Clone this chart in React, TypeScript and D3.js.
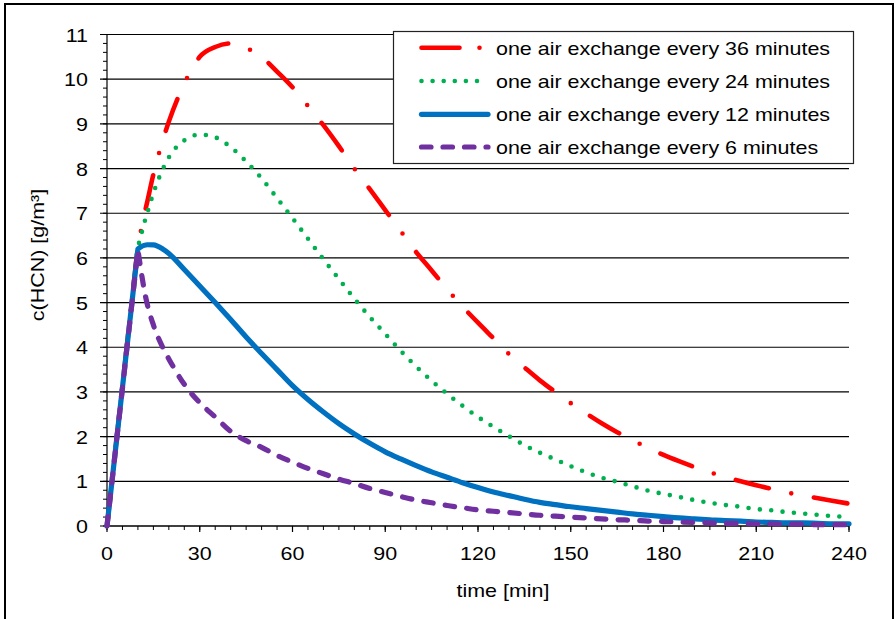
import React from 'react';
import * as d3 from 'd3';

const times = [0, 10, 11, 12, 13, 15, 18, 20, 25, 30, 35, 40, 45, 50, 55, 60, 65, 70, 75, 80, 85, 90, 95, 100, 105, 110, 115, 120, 125, 130, 135, 140, 145, 150, 155, 160, 165, 170, 175, 180, 185, 190, 195, 200, 205, 210, 215, 220, 225, 230, 235, 240];

const every36 = [0, 6.28, 6.62, 6.95, 7.25, 7.87, 8.62, 9.05, 9.9, 10.5, 10.72, 10.8, 10.7, 10.5, 10.17, 9.82, 9.4, 8.97, 8.5, 8.0, 7.54, 7.07, 6.6, 6.13, 5.72, 5.3, 4.91, 4.55, 4.2, 3.85, 3.55, 3.26, 3.0, 2.75, 2.52, 2.3, 2.1, 1.92, 1.75, 1.59, 1.45, 1.32, 1.2, 1.1, 1.0, 0.91, 0.83, 0.75, 0.68, 0.62, 0.56, 0.5];
const every24 = [0, 6.25, 6.5, 6.77, 7.0, 7.45, 7.98, 8.25, 8.63, 8.76, 8.7, 8.48, 8.16, 7.78, 7.34, 6.89, 6.43, 5.97, 5.53, 5.09, 4.68, 4.3, 3.92, 3.57, 3.25, 2.96, 2.69, 2.44, 2.22, 2.01, 1.81, 1.64, 1.49, 1.34, 1.2, 1.08, 0.99, 0.89, 0.79, 0.72, 0.65, 0.58, 0.52, 0.47, 0.43, 0.38, 0.35, 0.31, 0.28, 0.25, 0.22, 0.2];
const every12 = [0, 6.2, 6.25, 6.28, 6.295, 6.29, 6.2, 6.1, 5.74, 5.37, 5.0, 4.62, 4.23, 3.86, 3.5, 3.14, 2.83, 2.55, 2.29, 2.06, 1.85, 1.66, 1.5, 1.35, 1.21, 1.09, 0.97, 0.86, 0.76, 0.68, 0.6, 0.53, 0.48, 0.43, 0.39, 0.35, 0.31, 0.27, 0.24, 0.21, 0.18, 0.16, 0.14, 0.12, 0.11, 0.09, 0.08, 0.07, 0.07, 0.06, 0.05, 0.05];
const every6 = [0, 6.18, 5.72, 5.3, 4.97, 4.5, 4.0, 3.74, 3.17, 2.76, 2.44, 2.12, 1.91, 1.76, 1.58, 1.43, 1.29, 1.17, 1.05, 0.95, 0.84, 0.75, 0.66, 0.58, 0.52, 0.46, 0.41, 0.36, 0.33, 0.3, 0.27, 0.24, 0.22, 0.2, 0.18, 0.16, 0.14, 0.13, 0.11, 0.1, 0.09, 0.08, 0.07, 0.06, 0.06, 0.05, 0.05, 0.04, 0.04, 0.03, 0.03, 0.03];

const seriesLabels = [
  'one air exchange every 36 minutes',
  'one air exchange every 24 minutes',
  'one air exchange every 12 minutes',
  'one air exchange every 6 minutes',
];
const yTickValues = [0, 1, 2, 3, 4, 5, 6, 7, 8, 9, 10, 11];
const xTickValues = [0, 30, 60, 90, 120, 150, 180, 210, 240];
const yTitle = 'c(HCN) [g/m³]';
const xTitle = 'time [min]';

const FONT = 'Liberation Sans, Arial, sans-serif';
const FS = 19;
const SX = 1.13;

export default function App() {
  const x = d3.scaleLinear().domain([0, 240]).range([107, 849]);
  const y = d3.scaleLinear().domain([0, 11]).range([526, 34.5]);

  const makePath = (vals: number[]) => {
    const pts: [number, number][] = times.map((t, i) => [x(t), y(vals[i])]);
    const tail = d3.line().curve(d3.curveMonotoneX)(pts.slice(1)) as string;
    return `M${pts[0][0]},${pts[0][1]}L` + tail.slice(1);
  };

  const styles = [
    { data: every36, color: '#FF0000', width: 4.6, dash: '34 23 0 23', legendDash: '38 20 0 60' },
    { data: every24, color: '#00B050', width: 4.6, dash: '0 11.4', legendDash: '0 11.1' },
    { data: every12, color: '#0070C0', width: 5.2, dash: undefined, legendDash: undefined },
    { data: every6, color: '#7030A0', width: 5.2, dash: '9.5 12.2', legendDash: '9.5 12' },
  ];

  const yMinor = y.ticks(55);
  const xMinor = x.ticks(48);
  const legendRows = [47.7, 81, 114.3, 147];

  return (
    <svg width={896} height={619} style={{ position: 'absolute', left: 0, top: 0, background: '#fff' }}>
      <rect x={5} y={4} width={888} height={640} fill="#fff" stroke="#000" strokeWidth={2} />

      {yTickValues.map((v) => (
        <line key={'g' + v} x1={100} x2={849} y1={y(v)} y2={y(v)} stroke="#000" strokeWidth={1.2} />
      ))}
      {yMinor.map((v, i) => (
        <line key={'ym' + i} x1={103} x2={107} y1={y(v)} y2={y(v)} stroke="#000" strokeWidth={1} />
      ))}
      {xMinor.map((v, i) => (
        <line key={'xm' + i} x1={x(v)} x2={x(v)} y1={526} y2={530} stroke="#000" strokeWidth={1} />
      ))}
      {xTickValues.map((v) => (
        <line key={'xM' + v} x1={x(v)} x2={x(v)} y1={526} y2={532} stroke="#000" strokeWidth={1.2} />
      ))}
      <line x1={107} x2={107} y1={y(11)} y2={526} stroke="#000" strokeWidth={1.2} />
      <line x1={107} x2={849} y1={526} y2={526} stroke="#000" strokeWidth={1.2} />

      {yTickValues.map((v) => (
        <g key={'yl' + v} transform={`translate(88,${y(v) + 7}) scale(${SX},1)`}>
          <text textAnchor="end" fontFamily={FONT} fontSize={FS} fill="#000">{v}</text>
        </g>
      ))}
      {xTickValues.map((v) => (
        <g key={'xl' + v} transform={`translate(${x(v)},560) scale(${SX},1)`}>
          <text textAnchor="middle" fontFamily={FONT} fontSize={FS} fill="#000">{v}</text>
        </g>
      ))}

      <g transform={`translate(503,597) scale(${SX},1)`}>
        <text textAnchor="middle" fontFamily={FONT} fontSize={FS} fill="#000">{xTitle}</text>
      </g>
      <g transform="translate(44,255) rotate(-90)">
        <text textAnchor="middle" fontFamily={FONT} fontSize={FS} fill="#000" transform={`scale(${SX},1)`}>{yTitle}</text>
      </g>

      {styles.map((s, i) => (
        <path
          key={'s' + i}
          d={makePath(s.data)}
          fill="none"
          stroke={s.color}
          strokeWidth={s.width}
          strokeDasharray={s.dash}
          strokeLinecap="round"
          strokeLinejoin="round"
        />
      ))}

      <rect x={393.5} y={31.5} width={460} height={132} fill="#fff" stroke="#222" strokeWidth={1.2} />
      {styles.map((s, i) => (
        <g key={'lg' + i}>
          <line
            x1={421.5}
            x2={i === 0 ? 480 : 488}
            y1={legendRows[i]}
            y2={legendRows[i]}
            stroke={s.color}
            strokeWidth={s.width}
            strokeDasharray={s.legendDash}
            strokeLinecap="round"
          />
          <g transform={`translate(496,${legendRows[i] + 7}) scale(${SX},1)`}>
            <text fontFamily={FONT} fontSize={FS} fill="#000">{seriesLabels[i]}</text>
          </g>
        </g>
      ))}
    </svg>
  );
}
